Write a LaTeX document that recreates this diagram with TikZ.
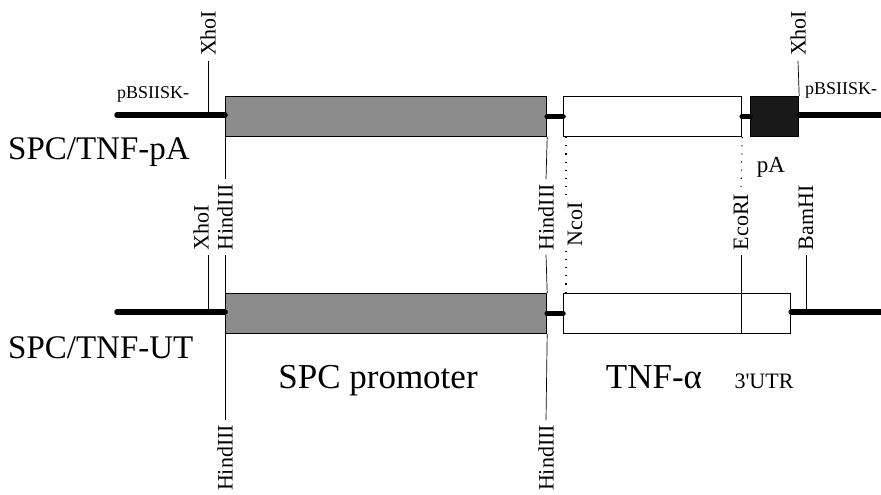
\documentclass[tikz,border=0pt]{standalone}
\usepackage{fontspec}
\setmainfont{Liberation Serif}
\usetikzlibrary{positioning}

\begin{document}
\begin{tikzpicture}[
        % one unit = one pixel of the layout, y running downwards
        x=1pt, y=-1pt,
        % Define styles for the parts
        box/.style={draw, line width=1.2pt, inner sep=0pt, minimum height=40pt, anchor=north west},
        promoter/.style={box, fill=black!45},
        cdna/.style={box, fill=white},
        polya/.style={box, fill=black!90},
        backbone/.style={line width=5.5pt, line cap=round},
        tick/.style={line width=0.7pt},
        dottick/.style={line width=1.1pt, dash pattern=on 1.1pt off 7pt},
        site/.style={rotate=90, font=\fontsize{22}{22}\selectfont, inner sep=1pt, outer sep=4pt},
        big/.style={font=\fontsize{33}{33}\selectfont, inner sep=0pt},
        small/.style={font=\fontsize{18}{18}\selectfont, inner sep=0pt}
    ]

    \useasboundingbox (0,0) rectangle (881,495);

    % Top construct: SPC/TNF-pA
    \node (prom1) [promoter, minimum width=321pt] at (225,96) {};
    \node (tnf1) [cdna, minimum width=178pt] at (563,96) {};
    \node (pa1) [polya, minimum width=48pt] at (750,96) {};
    \coordinate (vec1l) at (117,115);
    \coordinate (vec1r) at (884,115);
    \draw [backbone] (vec1l) -- (vec1l -| prom1.west);
    \draw [backbone] (prom1.east) -- (tnf1.west);
    \draw [backbone] (tnf1.east) -- (pa1.west);
    \draw [backbone] (vec1r -| pa1.east) -- (vec1r);

    \node (pbs1) [small, anchor=base west] at (117,99) {pBSIISK-};
    \node (pbs2) [small, anchor=base west] at (805,95) {pBSIISK-};
    \node (name1) [big, anchor=west] at (8,152) {SPC/TNF-pA};
    \node (palbl) [font=\fontsize{23}{23}\selectfont, inner sep=0pt] at (771,167) {pA};

    % XhoI sites of the top construct
    \coordinate (xho1) at (208,115);
    \node (xho1lbl) [site, anchor=west] at (208,61) {XhoI};
    \draw [tick] (xho1) -- (xho1lbl.west);
    \node (xho2lbl) [site, anchor=west] at (798,61) {XhoI};
    \draw [tick] (pa1.north east) -- (xho2lbl.west);

    % Bottom construct: SPC/TNF-UT
    \node (prom2) [promoter, minimum width=321pt] at (225,293) {};
    \node (tnf2) [cdna, minimum width=227pt] at (563,293) {};
    \coordinate (vec2l) at (117,312);
    \coordinate (vec2r) at (884,312);
    \draw [backbone] (vec2l) -- (vec2l -| prom2.west);
    \draw [backbone] (prom2.east) -- (tnf2.west);
    \draw [backbone] (vec2r -| tnf2.east) -- (vec2r);

    \node (name2) [big, anchor=west] at (8,348) {SPC/TNF-UT};

    % sites between the two constructs
    \node (xho3lbl) [site, anchor=west] at (201,255) {XhoI};
    \coordinate (xho3) at (208,312);
    \draw [tick] (xho3) -- (xho3 |- xho3lbl.west);

    \node (hind1lbl) [site, anchor=west] at (225,255) {HindIII};
    \draw [tick] (prom1.south west) -- (hind1lbl.east);
    \draw [tick] (hind1lbl.west) -- (prom2.north west);

    \node (hind2lbl) [site, anchor=west] at (546,255) {HindIII};
    \draw [tick] (prom1.south east) -- (hind2lbl.east);
    \draw [tick] (hind2lbl.west) -- (prom2.north east);

    \node (ncolbl) [site, anchor=west] at (575,251) {NcoI};
    \draw [dottick] ([xshift=3pt]tnf1.south west) -- ([xshift=3pt]tnf1.south west |- ncolbl.east);
    \draw [dottick] ([xshift=3pt]tnf2.north west |- ncolbl.west) -- ([xshift=3pt]tnf2.north west);

    \node (ecolbl) [site, anchor=west] at (741,255) {EcoRI};
    \draw [dottick] (tnf1.south east) -- (ecolbl.east);
    \draw [tick] (ecolbl.west) -- (ecolbl.west |- tnf2.south);

    \node (bamlbl) [site, anchor=west] at (806,255) {BamHI};
    \coordinate (bam) at (806,312);
    \draw [tick] (bam) -- (bamlbl.west);

    % HindIII sites below the promoter
    \node (hind3lbl) [site, anchor=east] at (225,420) {HindIII};
    \draw [tick] (prom2.south west) -- (hind3lbl.east);
    \node (hind4lbl) [site, anchor=east] at (546,420) {HindIII};
    \draw [tick] (prom2.south east) -- (hind4lbl.east);

    % part names
    \node (promlbl) [font=\fontsize{35}{35}\selectfont, inner sep=0pt, anchor=base] at (378,388) {SPC promoter};
    \node (tnflbl) [font=\fontsize{35}{35}\selectfont, inner sep=0pt, anchor=base] at (654,388) {TNF-α};
    \node (utrlbl) [font=\fontsize{22}{22}\selectfont, inner sep=0pt, anchor=base] at (764,388) {3\textquotesingle UTR};

\end{tikzpicture}
\end{document}
